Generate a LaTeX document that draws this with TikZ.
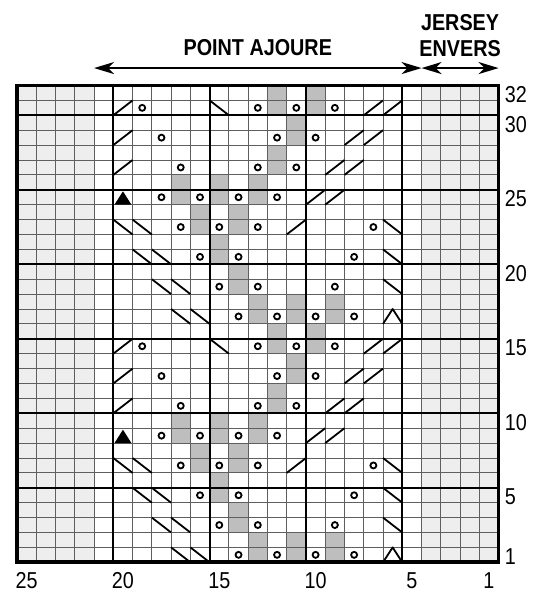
\documentclass[tikz,border=0pt]{standalone}
\usepackage{fontspec}
\usepackage{graphicx}
\setmainfont{Liberation Sans}
\usetikzlibrary{arrows.meta}
\definecolor{knline}{RGB}{95,95,95}
\definecolor{knrev}{RGB}{238,238,238}
\definecolor{knsh}{RGB}{190,190,190}
\newcommand{\knnarrow}[1]{\scalebox{0.86}[1]{#1}}
\tikzset{
  cellline/.style={draw=knline, line width=0.9pt},
  fiveline/.style={draw=black, line width=2.2pt},
  frameline/.style={draw=black, line width=3.6pt},
  slant/.style={draw=black, line width=1.8pt, line join=round},
  yarnover/.style={draw=black, line width=1.8pt},
  kntitle/.style={font=\fontsize{23}{23}\selectfont\bfseries, inner sep=0pt},
  knnum/.style={font=\fontsize{23}{23}\selectfont, inner sep=0pt},
  knspan/.style={{Stealth[length=20pt,width=12pt,inset=6pt]}-{Stealth[length=20pt,width=12pt,inset=6pt]}, line width=2.2pt}
}

\begin{document}
\begin{tikzpicture}[x=19.264pt, y=14.9pt]
  \useasboundingbox (-17pt,-31.7pt) rectangle (518pt,562.3pt);
  % reverse stockinette borders
  \fill[knrev] (0,0) rectangle (4,32);
  \fill[knrev] (21,0) rectangle (25,32);
  % shaded stitches, two rows each
  \foreach \o in {0,16} {
    \foreach \c/\r in {13/1,11/1,9/1,14/3,15/5,16/7,14/7,17/9,15/9,13/9,12/11,11/13,12/15,10/15}
      \fill[knsh] ({25-\c},{\r-1+\o}) rectangle ++(1,2);
  }
  % grid
  \foreach \i in {1,...,24} \draw[cellline] (\i,0) -- (\i,32);
  \foreach \j in {1,...,31} \draw[cellline] (0,\j) -- (25,\j);
  \foreach \i in {5,10,15,20} \draw[fiveline] (\i,0) -- (\i,32);
  \foreach \j in {5,10,...,30} \draw[fiveline] (0,\j) -- (25,\j);
  \draw[frameline] (0,0) rectangle (25,32);
  % symbols
  \foreach \o in {0,16} {
    \foreach \c/\r in {11/7,10/9,9/9,20/11,9/11,8/11,20/13,8/13,7/13,20/15,7/15,6/15}
      \draw[slant] ({25-\c},{\r-1+\o}) -- ++(1,1);
    \foreach \c/\r in {17/1,16/1,18/3,17/3,6/3,19/5,18/5,6/5,20/7,19/7,6/7,15/15}
      \draw[slant] ({25-\c},{\r+\o}) -- ++(1,-1);
    \foreach \c/\r in {14/1,12/1,10/1,8/1,15/3,13/3,9/3,16/5,14/5,8/5,17/7,15/7,13/7,7/7,
                       18/9,16/9,14/9,12/9,17/11,13/11,11/11,18/13,12/13,10/13,19/15,13/15,11/15,9/15}
      \draw[yarnover] ({25.5-\c},{\r-0.5+\o}) circle (3pt);
    \fill ({25-20+0.06},{8+\o}) -- ++(0.88,0) -- ++(-0.44,0.9) -- cycle;
    \draw[slant] ({25-6},{\o}) -- ++(0.5,1) -- ++(0.5,-1);
  }
  % row and stitch numbers
  \foreach \r in {32,30,25,20,15,10,5,1}
    \node[knnum, anchor=west] (row\r) at ([xshift=6pt,yshift=-1.5pt]25,\r-0.5) {\knnarrow{\r}};
  \foreach \c in {25,20,15,10,5,1}
    \node[knnum] (st\c) at (25.5-\c,-1.25) {\knnarrow{\c}};
  % headings
  \coordinate (pa-w) at (4,33.17);
  \coordinate (pa-e) at (21,33.17);
  \coordinate (je-e) at (25,33.17);
  \node[kntitle] (pa) at (12.5,34.53) {\knnarrow{POINT AJOURE}};
  \node[kntitle] (je1) at (23,36.23) {\knnarrow{JERSEY}};
  \node[kntitle] (je2) at (23,34.45) {\knnarrow{ENVERS}};
  \draw[knspan] (pa-w) -- (pa-e);
  \draw[knspan] (pa-e) -- (je-e);
\end{tikzpicture}
\end{document}
